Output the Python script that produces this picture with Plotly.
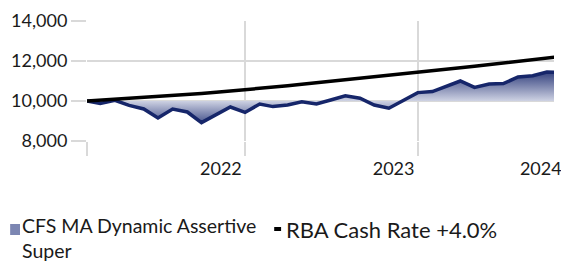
import plotly.graph_objects as go

# ---- data ----
months = [
    "2021-02-01", "2021-03-01", "2021-04-01", "2021-05-01", "2021-06-01", "2021-07-01",
    "2021-08-01", "2021-09-01", "2021-10-01", "2021-11-01", "2021-12-01",
    "2022-01-01", "2022-02-01", "2022-03-01", "2022-04-01", "2022-05-01", "2022-06-01",
    "2022-07-01", "2022-08-01", "2022-09-01", "2022-10-01", "2022-11-01", "2022-12-01",
    "2023-01-01", "2023-02-01", "2023-03-01", "2023-04-01", "2023-05-01", "2023-06-01",
    "2023-07-01", "2023-08-01", "2023-09-01", "2023-10-01", "2023-11-01",
]
fund_values = [
    10000, 9880, 10030, 9780, 9600, 9150, 9600, 9450, 8920, 9300, 9700,
    9430, 9850, 9720, 9800, 9960, 9850, 10050, 10260, 10140, 9800, 9640, 10020,
    10420, 10470, 10720, 11000, 10680, 10850, 10870, 11200, 11260, 11450, 11420,
]
rba_values = [
    10000, 10040, 10082, 10126, 10172, 10220, 10270, 10322, 10376, 10432, 10490,
    10550, 10620, 10692, 10765, 10837, 10909, 10981, 11053, 11125, 11197, 11269, 11342,
    11415, 11496, 11577, 11658, 11739, 11820, 11901, 11982, 12063, 12144, 12225,
]
base_value = 10000
fund_name = "CFS MA Dynamic Assertive<br>Super"
rba_name = "RBA Cash Rate +4.0%"
y_ticks = [8000, 10000, 12000, 14000]
grid_dates = ["2021-02-01", "2022-01-01", "2023-01-01"]
year_label_dates = ["2021-11-11", "2022-11-11", "2023-09-18"]
year_labels = ["2022", "2023", "2024"]
x_range = ["2021-02-01", "2023-10-16"]

FONT = "Lato"
GRID = "#d9d9d9"
NAVY = "#16266a"
TXT = "#1a1a1a"

fig = go.Figure()

# baseline for the area fill
fig.add_trace(go.Scatter(
    x=months, y=[base_value] * len(months), mode="lines",
    line=dict(width=0, color="rgba(0,0,0,0)"), showlegend=False, hoverinfo="skip",
))
fig.add_trace(go.Scatter(
    x=months, y=fund_values, mode="lines", name=fund_name,
    line=dict(color=NAVY, width=3.5),
    fill="tonexty",
    fillgradient=dict(
        type="vertical", start=8800, stop=11600,
        colorscale=[[0.0, "rgba(50,64,128,0.95)"],
                    [0.43, "rgba(206,210,227,1)"],
                    [1.0, "rgba(30,45,112,0.97)"]],
    ),
    showlegend=False,
))
fig.add_trace(go.Scatter(
    x=months, y=rba_values, mode="lines", name=rba_name,
    line=dict(color="black", width=3.5), xaxis="x2", yaxis="y",
    showlegend=False,
))

# manual legend matching the reference layout
W0, W1, H0, H1 = 87, 561, 21, 141
def px_x(p):
    return (p - W0) / (W1 - W0)
def px_y(p):
    return (H1 - p) / (H1 - H0)

fig.add_annotation(text=fund_name, xref="paper", yref="paper",
                   x=px_x(19), y=px_y(238), xanchor="left", yanchor="middle",
                   align="left", showarrow=False,
                   font=dict(family=FONT, size=19.5, color=TXT))
fig.add_annotation(text=rba_name, xref="paper", yref="paper",
                   x=px_x(287), y=px_y(229), xanchor="left", yanchor="middle",
                   align="left", showarrow=False,
                   font=dict(family=FONT, size=22, color=TXT))
fig.add_shape(type="rect", xref="paper", yref="paper",
              x0=px_x(9), x1=px_x(19), y0=px_y(235), y1=px_y(224),
              fillcolor="#7c86b2", line=dict(width=0))
fig.add_shape(type="rect", xref="paper", yref="paper",
              x0=px_x(277), x1=px_x(284), y0=px_y(231), y1=px_y(227),
              fillcolor="black", line=dict(width=0))

fig.update_layout(
    width=561, height=263,
    margin=dict(l=W0, r=0, t=H0, b=263 - H1),
    paper_bgcolor="white", plot_bgcolor="white",
    font=dict(family=FONT, size=18, color=TXT),
    showlegend=False,
    xaxis=dict(
        type="date", range=x_range, tickvals=grid_dates,
        ticktext=["", "", ""], showgrid=True, gridcolor=GRID, gridwidth=2,
        ticks="outside", ticklen=14, tickcolor=GRID, tickwidth=2,
        showline=False, zeroline=False,
    ),
    xaxis2=dict(
        type="date", range=x_range, overlaying="x", anchor="y", side="bottom",
        tickvals=year_label_dates, ticktext=year_labels, showgrid=False,
        ticks="outside", ticklen=11, tickcolor="rgba(0,0,0,0)",
        showline=False, zeroline=False, ticklabeloverflow="allow",
        tickfont=dict(family=FONT, size=18, color=TXT),
    ),
    yaxis=dict(
        range=[8000, 14000], tickvals=y_ticks, tickformat=",d",
        showgrid=True, gridcolor=GRID, gridwidth=2,
        ticks="outside", ticklen=15, tickcolor=GRID, tickwidth=2,
        showline=False, zeroline=False,
        tickfont=dict(family=FONT, size=18, color=TXT),
    ),
)

fig.write_html("out.html", config={"displayModeBar": False},
               post_script="document.body.style.margin='0';")
